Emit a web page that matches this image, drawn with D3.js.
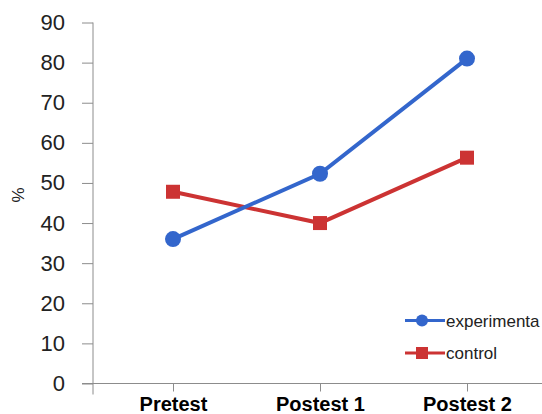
<!DOCTYPE html>
<html>
<head>
<meta charset="utf-8">
<script src="https://cdn.jsdelivr.net/npm/d3@7"></script>
<style>
  html, body { margin: 0; padding: 0; background: #fff; }
  svg { display: block; }
</style>
</head>
<body>
<svg id="chart" width="542" height="414"></svg>
<script>
// Test phases and percentages for each group
const phases = ["Pretest", "Postest 1", "Postest 2"];
const experimental = [36, 52.3, 81];
const control = [47.8, 40, 56.3];
const yTicks = [0, 10, 20, 30, 40, 50, 60, 70, 80, 90];
const seriesNames = ["experimenta", "control"];

const svg = d3.select("#chart");
const font = "'Liberation Sans', Arial, sans-serif";
const axisColor = "#8c8c8c";

const x = d3.scalePoint().domain(phases).range([173, 467]);
const y = d3.scaleLinear().domain([0, 90]).range([383.5, 22.5]);

// Y axis
const yAxis = svg.append("g").attr("transform", "translate(93,0)")
  .call(d3.axisLeft(y).tickValues(yTicks).tickSize(11).tickPadding(17).tickSizeOuter(0));
yAxis.select(".domain").remove();
yAxis.append("line").attr("x1", 0).attr("x2", 0)
  .attr("y1", y(90)).attr("y2", y(0) + 11)
  .attr("stroke", axisColor).attr("stroke-width", 1);
yAxis.selectAll(".tick line").attr("stroke", axisColor);
yAxis.selectAll(".tick text")
  .attr("fill", "#222").style("font-family", font).style("font-size", "22px");

// X axis
const xAxis = svg.append("g").attr("transform", `translate(0,${y(0)})`)
  .call(d3.axisBottom(x).tickSize(8).tickPadding(5).tickSizeOuter(0));
xAxis.select(".domain").remove();
xAxis.append("line").attr("x1", 82).attr("x2", 542).attr("y1", 0).attr("y2", 0)
  .attr("stroke", axisColor).attr("stroke-width", 1.2);
xAxis.selectAll(".tick line").attr("stroke", axisColor);
xAxis.selectAll(".tick text")
  .attr("fill", "#000").style("font-family", font)
  .style("font-size", "20px").style("font-weight", "bold");

// Y axis title
svg.append("text")
  .attr("transform", `translate(24,${y(47)}) rotate(-90)`)
  .attr("text-anchor", "middle")
  .style("font-family", font).style("font-size", "17px").attr("fill", "#222")
  .text("%");

const line = d3.line().x((d, i) => x(phases[i])).y(d => y(d));

// Control series (red squares)
svg.append("path").datum(control).attr("d", line)
  .attr("fill", "none").attr("stroke", "#cc3333").attr("stroke-width", 4);
svg.selectAll(".sq").data(control).enter().append("rect")
  .attr("x", (d, i) => x(phases[i]) - 7).attr("y", d => y(d) - 7)
  .attr("width", 14).attr("height", 14).attr("fill", "#cc3333");

// Experimental series (blue circles)
svg.append("path").datum(experimental).attr("d", line)
  .attr("fill", "none").attr("stroke", "#3366cc").attr("stroke-width", 4);
svg.selectAll(".dot").data(experimental).enter().append("circle")
  .attr("cx", (d, i) => x(phases[i])).attr("cy", d => y(d))
  .attr("r", 8).attr("fill", "#3366cc");

// Legend
const legend = svg.append("g");
const legendRows = [
  { name: seriesNames[0], color: "#3366cc", shape: "circle", cy: 320.5 },
  { name: seriesNames[1], color: "#cc3333", shape: "square", cy: 353 }
];
legendRows.forEach(r => {
  legend.append("line").attr("x1", 405).attr("x2", 445)
    .attr("y1", r.cy).attr("y2", r.cy)
    .attr("stroke", r.color).attr("stroke-width", 3);
  if (r.shape === "circle") {
    legend.append("circle").attr("cx", 422).attr("cy", r.cy).attr("r", 6).attr("fill", r.color);
  } else {
    legend.append("rect").attr("x", 416).attr("y", r.cy - 6)
      .attr("width", 12).attr("height", 12).attr("fill", r.color);
  }
  legend.append("text").attr("x", 446).attr("y", r.cy + 6)
    .style("font-family", font).style("font-size", "17px").attr("fill", "#222")
    .text(r.name);
});
</script>
</body>
</html>
